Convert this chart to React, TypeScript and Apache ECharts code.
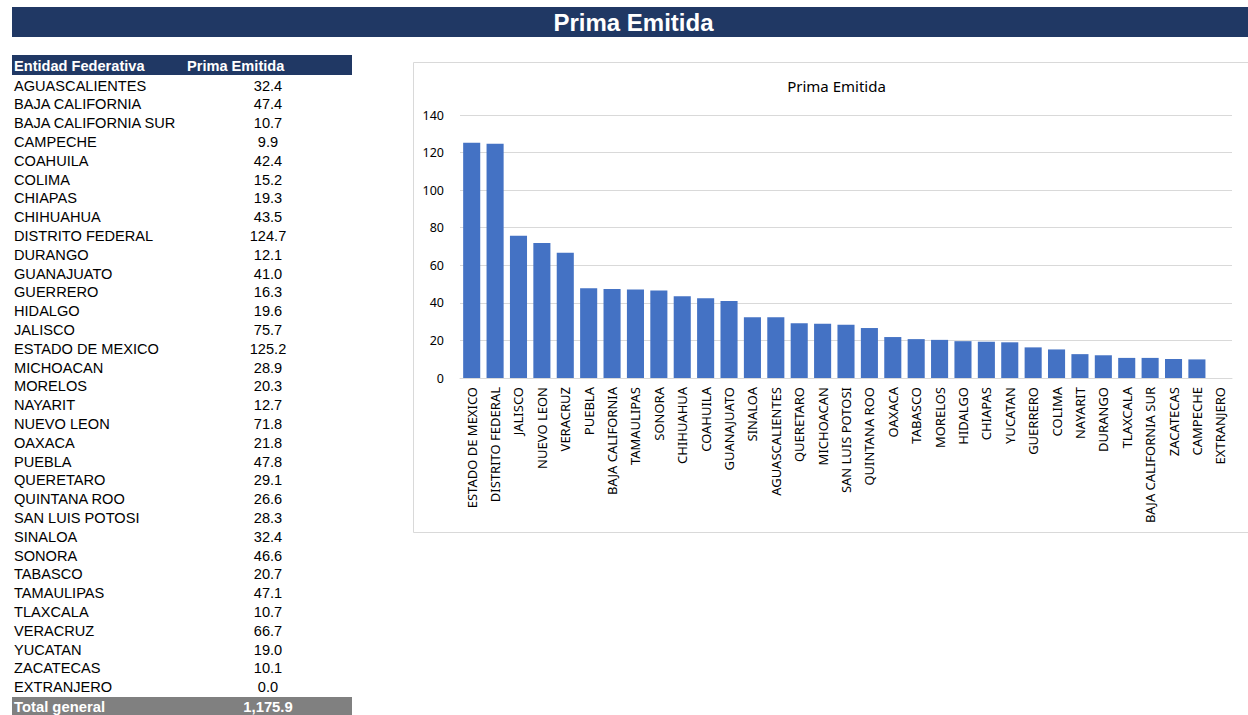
import React, { useEffect, useRef } from "react";
import * as echarts from "echarts";

const tableStates = [
  "AGUASCALIENTES", "BAJA CALIFORNIA", "BAJA CALIFORNIA SUR", "CAMPECHE", "COAHUILA", "COLIMA",
  "CHIAPAS", "CHIHUAHUA", "DISTRITO FEDERAL", "DURANGO", "GUANAJUATO", "GUERRERO", "HIDALGO",
  "JALISCO", "ESTADO DE MEXICO", "MICHOACAN", "MORELOS", "NAYARIT", "NUEVO LEON", "OAXACA",
  "PUEBLA", "QUERETARO", "QUINTANA ROO", "SAN LUIS POTOSI", "SINALOA", "SONORA", "TABASCO",
  "TAMAULIPAS", "TLAXCALA", "VERACRUZ", "YUCATAN", "ZACATECAS", "EXTRANJERO",
];
const tableValues = [
  32.4, 47.4, 10.7, 9.9, 42.4, 15.2, 19.3, 43.5, 124.7, 12.1, 41.0, 16.3, 19.6, 75.7, 125.2, 28.9,
  20.3, 12.7, 71.8, 21.8, 47.8, 29.1, 26.6, 28.3, 32.4, 46.6, 20.7, 47.1, 10.7, 66.7, 19.0, 10.1, 0.0,
];
const totalLabel = "1,175.9";

const chartCategories = [
  "ESTADO DE MEXICO", "DISTRITO FEDERAL", "JALISCO", "NUEVO LEON", "VERACRUZ", "PUEBLA",
  "BAJA CALIFORNIA", "TAMAULIPAS", "SONORA", "CHIHUAHUA", "COAHUILA", "GUANAJUATO", "SINALOA",
  "AGUASCALIENTES", "QUERETARO", "MICHOACAN", "SAN LUIS POTOSI", "QUINTANA ROO", "OAXACA",
  "TABASCO", "MORELOS", "HIDALGO", "CHIAPAS", "YUCATAN", "GUERRERO", "COLIMA", "NAYARIT",
  "DURANGO", "TLAXCALA", "BAJA CALIFORNIA SUR", "ZACATECAS", "CAMPECHE", "EXTRANJERO",
];
const chartValues = [
  125.2, 124.7, 75.7, 71.8, 66.7, 47.8, 47.4, 47.1, 46.6, 43.5, 42.4, 41.0, 32.4, 32.4, 29.1, 28.9,
  28.3, 26.6, 21.8, 20.7, 20.3, 19.6, 19.3, 19.0, 16.3, 15.2, 12.7, 12.1, 10.7, 10.7, 10.1, 9.9, 0.0,
];

const NAVY = "#203864";
const TFONT = "Liberation Sans, Arial, sans-serif";
const CFONT = "Noto Sans, sans-serif";

export default function App() {
  const ref = useRef<HTMLDivElement>(null);
  useEffect(() => {
    if (!ref.current) return;
    const chart = echarts.init(ref.current, null, { renderer: "svg" });
    const rowH = 18.8;
    const firstY = 85.5;
    const tableEls: any[] = [];
    tableStates.forEach((s, i) => {
      const y = firstY + i * rowH;
      tableEls.push({
        type: "text", x: 14, y,
        style: { text: s, font: `14.6px ${TFONT}`, fill: "#000", verticalAlign: "middle" },
      });
      tableEls.push({
        type: "text", x: 268, y,
        style: { text: tableValues[i].toFixed(1), font: `14.6px ${TFONT}`, fill: "#000", align: "center", verticalAlign: "middle" },
      });
    });
    chart.setOption({
      animation: false,
      backgroundColor: "#fff",
      graphic: [
        { type: "rect", shape: { x: 12, y: 7, width: 1240, height: 30 }, style: { fill: NAVY } },
        {
          type: "text", x: 633.5, y: 22,
          style: { text: "Prima Emitida", font: `bold 24px ${TFONT}`, fill: "#fff", align: "center", verticalAlign: "middle" },
        },
        { type: "rect", shape: { x: 12, y: 55, width: 340, height: 20 }, style: { fill: NAVY } },
        {
          type: "text", x: 14, y: 65.5,
          style: { text: "Entidad Federativa", font: `bold 14.6px ${TFONT}`, fill: "#fff", verticalAlign: "middle" },
        },
        {
          type: "text", x: 187, y: 65.5,
          style: { text: "Prima Emitida", font: `bold 14.6px ${TFONT}`, fill: "#fff", verticalAlign: "middle" },
        },
        ...tableEls,
        { type: "rect", shape: { x: 12, y: 697, width: 340, height: 18 }, style: { fill: "#808080" } },
        {
          type: "text", x: 14, y: 706.5,
          style: { text: "Total general", font: `bold 14.8px ${TFONT}`, fill: "#fff", verticalAlign: "middle" },
        },
        {
          type: "text", x: 268, y: 706.5,
          style: { text: totalLabel, font: `bold 14.8px ${TFONT}`, fill: "#fff", align: "center", verticalAlign: "middle" },
        },
        {
          type: "rect", z: -10, shape: { x: 413.5, y: 62.5, width: 850, height: 470 },
          style: { fill: "#fff", stroke: "#d9d9d9", lineWidth: 1 },
        },
      ],
      title: {
        text: "Prima Emitida",
        left: 831.5, top: 73, textAlign: "center",
        textStyle: { fontFamily: CFONT, fontSize: 15, fontWeight: "normal", color: "#000" },
      },
      grid: { left: 460, right: 16, top: 115, bottom: 337, containLabel: false },
      xAxis: {
        type: "category",
        data: chartCategories,
        axisLine: { lineStyle: { color: "#d9d9d9" } },
        axisTick: { show: false },
        axisLabel: { rotate: 90, interval: 0, margin: 9, color: "#000", fontFamily: CFONT, fontSize: 13 },
      },
      yAxis: {
        type: "value", min: 0, max: 140, interval: 20,
        axisLine: { show: false }, axisTick: { show: false },
        splitLine: { lineStyle: { color: "#d9d9d9" } },
        axisLabel: { margin: 16, color: "#000", fontFamily: CFONT, fontSize: 12.5 },
      },
      series: [
        {
          type: "bar", data: chartValues, barCategoryGap: "27%",
          itemStyle: { color: "#4472c4" },
        },
      ],
    });
    return () => chart.dispose();
  }, []);
  return <div ref={ref} style={{ position: "fixed", left: 0, top: 0, width: 1248, height: 715 }} />;
}
